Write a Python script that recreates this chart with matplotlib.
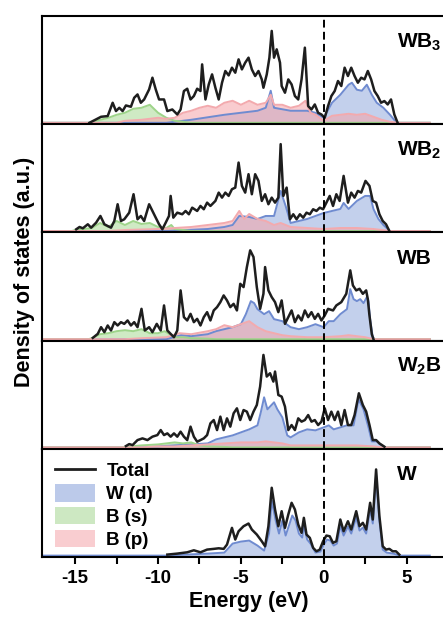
import matplotlib
matplotlib.use('Agg')
import matplotlib.pyplot as plt
from matplotlib.ticker import MultipleLocator
from matplotlib.lines import Line2D
from matplotlib.patches import Patch

# ---- data (DOS in arbitrary units) ----
# WB3
wb3_e = [-14.14, -13.44, -13.04, -12.74, -12.54, -12.34, -12.14, -11.94, -11.64, -11.44, -11.24, -11.04, -10.84,
         -10.54, -10.34, -10.14, -9.94, -9.64, -9.44, -9.14, -8.84, -8.64, -8.44, -8.24, -8.04, -7.84, -7.64, -7.44,
         -7.34, -7.14, -6.94, -6.74, -6.54, -6.34, -6.14, -5.94, -5.74, -5.54, -5.34, -5.14, -4.94, -4.74, -4.54,
         -4.34, -4.14, -3.94, -3.74, -3.64, -3.44, -3.28, -3.14, -3.0, -2.84, -2.64, -2.54, -2.34, -2.14, -1.94,
         -1.74, -1.54, -1.34, -1.14, -0.94, -0.74, -0.54, -0.34, -0.14, 0.06, 0.26, 0.46, 0.66, 0.86, 1.06, 1.26,
         1.46, 1.66, 1.86, 2.06, 2.26, 2.46, 2.66, 2.86, 3.06, 3.26, 3.46, 3.66, 3.86, 4.06, 4.26, 4.46]
wb3_tot = [0, 6, 6.7, 20, 11.7, 15, 11.7, 17.3, 16, 25, 28.3, 20, 23.3, 33.3, 45, 33.3, 23.3, 23.3, 11.7, 13.3, 8.3,
           13.3, 31.7, 34, 23.3, 26.7, 34, 31.7, 58.3, 23.3, 38.3, 48.3, 35, 23.3, 40, 51.7, 47.3, 55, 50, 63.3,
           53.3, 60, 65, 53.3, 46.7, 51.7, 43.3, 35, 48.3, 65, 91.7, 65, 73.3, 60, 36.7, 30, 43.3, 38.3, 26.7, 23.3,
           43.3, 75, 16.7, 13.3, 18.3, 10, 8.3, 5, 16.7, 26.7, 31.7, 41.7, 36.7, 55, 46.7, 55, 46.7, 40, 45, 43.3,
           51.7, 43.3, 31.7, 26.7, 20, 21.7, 18.3, 23.3, 8.3, 0]
wb3_wd_e = [-17, -9.5, -8, -6, -4, -3.5, -3.2, -3, -2, -1, -0.5, 0, 0.5, 1, 1.5, 1.7, 2, 2.3, 2.6, 2.9, 3.2, 3.6,
            4, 4.4, 6.4]
wb3_wd = [0, 0, 3, 8, 12, 15, 32, 15, 12, 12, 10, 5, 20, 28, 38, 40, 33, 32, 38, 28, 20, 15, 8, 0, 0]
wb3_bs_e = [-17, -14.2, -13.5, -13, -12.5, -12, -11.5, -11, -10.5, -10, -9.5, -9, -8.5, -8, 6.4]
wb3_bs = [0, 0, 3, 5, 8, 10, 14, 15, 18, 10, 5, 2, 1, 0, 0]
wb3_bp_e = [-17, -12.5, -12, -11, -10, -9.5, -9, -8.5, -8, -7.5, -7, -6.5, -6, -5.5, -5, -4.5, -4, -3.5, -3.2,
            -3, -2.5, -2, -1.5, -1.1, -0.8, -0.5, 0, 0.5, 1, 1.5, 2, 2.5, 3, 3.5, 4, 4.5, 6.4]
wb3_bp = [0, 0, 2, 3, 5, 4, 5, 10, 12, 15, 17, 15, 20, 22, 18, 22, 18, 20, 28, 18, 18, 15, 17, 22, 10, 8, 2, 7, 8,
          9, 8, 9, 6, 3, 1, 0, 0]

# WB2
wb2_e = [-14.94, -14.74, -14.54, -14.24, -14.04, -13.74, -13.48, -13.24, -13.04, -12.84, -12.64, -12.44, -12.24,
         -12.04, -11.74, -11.48, -11.24, -11.04, -10.84, -10.54, -10.34, -10.14, -9.94, -9.74, -9.54, -9.34, -9.24,
         -9.08, -8.84, -8.54, -8.34, -8.14, -7.94, -7.64, -7.44, -7.24, -7.04, -6.84, -6.54, -6.34, -6.14, -5.94,
         -5.74, -5.54, -5.34, -5.14, -4.94, -4.74, -4.54, -4.34, -4.14, -3.94, -3.74, -3.54, -3.34, -3.14, -2.94,
         -2.74, -2.6, -2.44, -2.24, -2.04, -1.84, -1.64, -1.44, -1.24, -1.04, -0.84, -0.64, -0.44, -0.24, -0.04,
         0.16, 0.36, 0.56, 0.76, 0.96, 1.2, 1.46, 1.66, 1.86, 2.06, 2.26, 2.52, 2.76, 2.96, 3.16, 3.36, 3.56, 3.76,
         3.96]
wb2_tot = [1.7, 4, 2.7, 6.7, 3.3, 8.3, 15, 6.7, 5, 3.3, 10, 26.7, 10, 11.7, 18.3, 36.7, 11.7, 15, 10, 26.7, 20,
           13.3, 6.7, 1.7, 8.3, 15, 35, 13.3, 18.3, 16.7, 20, 16.7, 23.3, 20, 25, 21.7, 28.3, 25, 30, 38.3, 33.3,
           38.3, 35, 41.7, 43.3, 68.3, 45, 38.3, 56.7, 36.7, 56.7, 50, 30, 36.7, 26.7, 33.3, 28.3, 33.3, 86.7, 35,
           43.3, 11.7, 16.7, 11.7, 16.7, 13.3, 18.3, 16.7, 21.7, 20, 23.3, 21.7, 28.3, 35, 25, 36.7, 30, 55, 28.3,
           38.3, 33.3, 40, 38.3, 50, 45, 30, 28.3, 16.7, 10, 6.7, 0]
wb2_wd_e = [-17, -9.5, -7, -6, -5.5, -5.1, -4.5, -4, -3.5, -3, -2.6, -2.3, -2, -1.5, -1, -0.5, 0, 0.5, 1, 1.2,
            1.5, 2, 2.5, 2.8, 3, 3.3, 3.6, 4, 6.4]
wb2_wd = [0, 0, 2, 4, 6, 15, 14, 12, 15, 15, 40, 25, 8, 10, 12, 15, 18, 20, 22, 28, 22, 30, 35, 35, 22, 12, 6, 0, 0]
wb2_bs_e = [-17, -15.2, -15, -14.5, -14, -13.5, -13, -12.5, -12, -11.5, -11, -10.5, -10, -9.5, -9.2, -9, -8.5, -8,
            6.4]
wb2_bs = [0, 0, 1, 2, 3, 8, 4, 10, 6, 10, 7, 8, 4, 3, 6, 2, 1, 0, 0]
wb2_bp_e = [-17, -13, -12, -10, -9, -8, -7, -6, -5.5, -5.1, -4.8, -4.5, -4, -3.5, -3, -2.6, -2, -1, 0, 1, 2, 3,
            3.5, 4, 6.4]
wb2_bp = [0, 0, 1, 2, 3, 4, 6, 8, 10, 20, 12, 17, 12, 10, 6, 8, 4, 3, 2, 3, 3, 2, 1, 0, 0]

# WB
wb_e = [-13.94, -13.64, -13.44, -13.24, -13.04, -12.84, -12.64, -12.44, -12.24, -12.04, -11.84, -11.64, -11.44,
        -11.24, -11.0, -10.8, -10.54, -10.34, -10.08, -9.84, -9.64, -9.44, -9.24, -9.04, -8.84, -8.64, -8.44, -8.24,
        -8.04, -7.84, -7.64, -7.44, -7.24, -7.04, -6.84, -6.64, -6.44, -6.24, -6.04, -5.84, -5.64, -5.44, -5.24,
        -5.04, -4.84, -4.64, -4.44, -4.24, -4.04, -3.84, -3.64, -3.54, -3.34, -3.14, -2.94, -2.74, -2.54, -2.34,
        -2.14, -1.94, -1.74, -1.54, -1.34, -1.14, -0.94, -0.74, -0.54, -0.34, -0.14, 0.06, 0.26, 0.56, 0.76, 1.06,
        1.36, 1.6, 1.76, 1.96, 2.16, 2.36, 2.56, 2.66, 2.75, 2.9, 3.0]
wb_tot = [1.3, 5.3, 12, 7, 13.7, 8.7, 17, 13.7, 17, 15.3, 18.7, 13.7, 17, 12, 30.3, 8.7, 12, 7, 15.3, 8.7, 33.7,
          8.7, 5.3, 2, 8.7, 48.7, 22, 18.7, 25.3, 17, 20.3, 13.7, 22, 27, 18.7, 28.7, 32, 37, 43.7, 38.7, 32, 35.3,
          28.7, 55.3, 52, 72, 88.7, 82, 52, 30.3, 45.3, 72, 48.7, 42, 37, 27, 38.7, 15.3, 22, 28.7, 17, 23.7, 18.7,
          28.7, 22, 27, 20.3, 25.3, 18.7, 23.7, 30.3, 28.7, 33.7, 37, 45.3, 68.7, 53.7, 48.7, 50.3, 45.3, 48.7, 40,
          25, 5, 0]
wb_wd_e = [-17, -9.5, -8.6, -8, -7, -6.5, -6, -5.5, -5, -4.7, -4.4, -4.2, -4, -3.6, -3.3, -3, -2.5, -2, -1.5, -1,
           -0.5, 0, 0.3, 0.6, 1, 1.4, 1.6, 1.8, 2.0, 2.2, 2.4, 2.6, 2.7, 2.8, 2.95, 3.05, 6.4]
wb_wd = [0, 0, 4, 3, 5, 8, 10, 12, 15, 25, 38, 36, 30, 25, 28, 20, 18, 12, 10, 12, 15, 12, 18, 18, 25, 30, 50, 40,
         38, 40, 36, 42, 38, 20, 3, 0, 0]
wb_bs_e = [-17, -14.2, -14, -13.5, -13, -12.5, -12, -11.5, -11, -10.5, -10, -9.6, -9, -8.5, -8, -7, -6.5, 6.4]
wb_bs = [0, 0, 1, 5, 6, 8, 9, 8, 10, 6, 6, 8, 2, 2, 1, 0.5, 0, 0]
wb_bp_e = [-17, -12, -11, -9.5, -8.7, -8, -7, -6.5, -6, -5.5, -5, -4.5, -4, -3.5, -3, -2.5, -2, -1, 0, 1, 1.5, 2,
           2.5, 3, 6.4]
wb_bp = [0, 0, 1, 2, 6, 5, 8, 10, 14, 12, 15, 18, 12, 8, 6, 4, 3, 2, 2, 3, 4, 3, 2, 0, 0]

# W2B
w2b_e = [-11.94, -11.74, -11.54, -11.24, -10.94, -10.64, -10.34, -10.04, -9.84, -9.64, -9.44, -9.24, -9.04, -8.84,
         -8.64, -8.44, -8.24, -8.04, -7.84, -7.64, -7.44, -7.24, -7.04, -6.84, -6.64, -6.44, -6.24, -6.04, -5.84,
         -5.64, -5.44, -5.24, -5.04, -4.84, -4.64, -4.44, -4.24, -4.04, -3.84, -3.64, -3.44, -3.24, -3.04, -2.94,
         -2.74, -2.54, -2.34, -2.14, -1.94, -1.74, -1.54, -1.34, -1.14, -0.94, -0.74, -0.54, -0.34, -0.14, 0.06,
         0.26, 0.46, 0.66, 0.86, 1.06, 1.26, 1.46, 1.66, 1.86, 2.12, 2.36, 2.56, 2.76, 2.96, 3.16, 3.36, 3.66]
w2b_tot = [1.3, 3.3, 2.3, 7.3, 9, 7.3, 10.7, 12.3, 17.3, 12.3, 14, 10.7, 14, 10.7, 15.7, 10.7, 7.3, 20.7, 10.7, 5.7,
           7.3, 9, 12.3, 24, 27.3, 17.3, 30.7, 17.3, 29, 20.7, 34, 39, 27.3, 37.3, 35.7, 27.3, 35.7, 42.3, 60.7, 92.3,
           70.7, 74, 65.7, 75.7, 52.3, 50.7, 40.7, 17.3, 22.3, 17.3, 29, 25.7, 27.3, 32.3, 25.7, 27.3, 22.3, 25.7, 39,
           27.3, 35.7, 27.3, 35.7, 22.3, 37.3, 22.3, 22.3, 32.3, 54, 42.3, 35.7, 22.3, 7.3, 7.3, 4, 0.7]
w2b_wd_e = [-17, -11, -10, -9, -8, -7, -6.5, -6, -5.5, -5, -4.5, -4, -3.8, -3.6, -3.4, -3.0, -2.8, -2.5, -2.2, -2,
            -1.5, -1, -0.5, 0, 0.3, 0.6, 1, 1.4, 1.8, 2.1, 2.4, 2.7, 2.9, 3.2, 3.4, 3.7, 6.4]
w2b_wd = [0, 0, 1, 2, 3, 4, 8, 10, 12, 15, 18, 22, 35, 50, 38, 45, 38, 30, 12, 10, 15, 18, 17, 20, 22, 18, 20, 22,
          22, 48, 38, 20, 6, 6, 3, 0, 0]
w2b_bs_e = [-17, -12.2, -12, -11, -10, -9.5, -9, -8.5, -8, -7.5, -7, -6, -5.5, 6.4]
w2b_bs = [0, 0, 0.5, 2, 3, 4, 5, 4, 5, 2, 1, 0.5, 0, 0]
w2b_bp_e = [-17, -11, -10, -9, -8, -7, -6, -5, -4, -3.5, -3, -2.5, -2, -1, 0, 1, 2, 3, 3.5, 6.4]
w2b_bp = [0, 0, 1, 1, 2, 3, 4, 5, 5, 6, 5, 4, 2, 2, 2, 2, 2, 1, 0, 0]

# W
w_e = [-9.44, -8.84, -8.24, -7.84, -7.44, -7.04, -6.64, -6.34, -6.04, -5.84, -5.54, -5.34, -5.14, -4.84, -4.54,
       -4.34, -4.04, -3.74, -3.54, -3.34, -3.14, -2.94, -2.74, -2.54, -2.34, -2.14, -1.94, -1.74, -1.54, -1.34, -1.2,
       -1.04, -0.84, -0.64, -0.44, -0.24, -0.04, 0.16, 0.36, 0.56, 0.76, 1.0, 1.2, 1.46, 1.66, 1.96, 2.16, 2.36,
       2.56, 2.8, 2.96, 3.16, 3.36, 3.56, 3.76, 3.96, 4.16, 4.36, 4.56]
w_tot = [1, 2, 3.3, 5.3, 3.3, 6, 6.7, 7.3, 6.7, 11, 27.7, 16, 24.3, 29.3, 32, 26, 21, 14.3, 9.3, 29.3, 67.7, 46,
         29.3, 44.3, 27.7, 41, 52.7, 46, 31, 22.7, 37.7, 21, 17.7, 7.7, 4.3, 6, 14.3, 20, 19.3, 12.7, 14.3, 36, 24.3,
         34.3, 26, 44.3, 29.3, 32.7, 26, 52.7, 36, 86, 39.3, 9.3, 6, 6.7, 4.3, 4.3, 1]
w_wd_e = [-17, -9.5, -9, -7, -6, -5.5, -5, -4.5, -4, -3.6, -3.3, -3.14, -2.9, -2.7, -2.5, -2.3, -2.1, -1.9, -1.7,
          -1.5, -1.3, -1.2, -1, -0.8, -0.5, -0.2, 0, 0.2, 0.4, 0.6, 0.8, 1.0, 1.2, 1.46, 1.66, 1.96, 2.16, 2.36, 2.56,
          2.8, 2.96, 3.16, 3.36, 3.56, 3.8, 4.2, 4.6, 6.4]
w_wd = [0, 0, 0.5, 2, 3, 12, 14, 15, 10, 5, 22, 55, 35, 22, 35, 20, 30, 40, 35, 22, 18, 30, 16, 12, 3, 4, 11, 16,
        15, 10, 12, 30, 20, 29, 22, 38, 25, 28, 22, 46, 32, 80, 35, 6, 3, 2, 0, 0]

panel_names = ['WB$_3$', 'WB$_2$', 'WB', 'W$_2$B', 'W']
x_ticks = [-15, -10, -5, 0, 5]

# colours
tot_color = '#1e1e1e'
wd_fill, wd_line = '#93abde', '#6f8bd0'
bs_fill, bs_line = '#a8d995', '#9ed48a'
bp_fill, bp_line = '#f5a3a8', '#f3aaae'

plt.rcParams['font.family'] = ['Liberation Sans', 'DejaVu Sans']
plt.rcParams['font.weight'] = 'bold'
plt.rcParams['axes.unicode_minus'] = False
plt.rcParams['mathtext.fontset'] = 'custom'
plt.rcParams['mathtext.rm'] = 'Liberation Sans:bold'
plt.rcParams['mathtext.bf'] = 'Liberation Sans:bold'
plt.rcParams['mathtext.default'] = 'bf'


def draw_partial(ax, e, v, fill, line):
    # filled projected DOS with a slightly darker outline
    ax.fill_between(e, 0, v, color=fill, alpha=0.55, lw=0, zorder=2)
    ax.plot(e, v, color=line, lw=1.4, zorder=2.5)


def draw_panel(ax, name, e, tot, wd_e, wd, bs_e=None, bs=None, bp_e=None, bp=None):
    draw_partial(ax, wd_e, wd, wd_fill, wd_line)
    if bs is not None:
        draw_partial(ax, bs_e, bs, bs_fill, bs_line)
    if bp is not None:
        draw_partial(ax, bp_e, bp, bp_fill, bp_line)
    ax.plot(e, tot, color=tot_color, lw=1.8, zorder=4)

    # Fermi level
    ax.axvline(0, color='black', lw=1.4, ls=(0, (4, 2.2)), zorder=5)

    # compound name, kept just inside the right edge of the figure
    ax.text(4.45, 0.76, name, transform=ax.get_xaxis_transform(), fontsize=15,
            fontweight='bold', ha='left', va='center')

    ax.set_ylim(-1.5, 106.5)
    ax.set_yticks([])
    for s in ax.spines.values():
        s.set_linewidth(1.5)


def main():
    fig, axes = plt.subplots(5, 1, sharex=True, figsize=(4.43, 6.19), dpi=100,
                             gridspec_kw=dict(hspace=0))
    fig.subplots_adjust(left=0.095, right=1.03, top=0.974, bottom=0.1)

    draw_panel(axes[0], panel_names[0], wb3_e, wb3_tot, wb3_wd_e, wb3_wd, wb3_bs_e, wb3_bs, wb3_bp_e, wb3_bp)
    draw_panel(axes[1], panel_names[1], wb2_e, wb2_tot, wb2_wd_e, wb2_wd, wb2_bs_e, wb2_bs, wb2_bp_e, wb2_bp)
    draw_panel(axes[2], panel_names[2], wb_e, wb_tot, wb_wd_e, wb_wd, wb_bs_e, wb_bs, wb_bp_e, wb_bp)
    draw_panel(axes[3], panel_names[3], w2b_e, w2b_tot, w2b_wd_e, w2b_wd, w2b_bs_e, w2b_bs, w2b_bp_e, w2b_bp)
    draw_panel(axes[4], panel_names[4], w_e, w_tot, w_wd_e, w_wd)

    for ax in axes:
        ax.set_xlim(-17, 8)
        ax.set_xticks(x_ticks)
        ax.xaxis.set_minor_locator(MultipleLocator(2.5))
        ax.tick_params(axis='x', which='both', direction='out', length=5, width=1.5,
                       top=False, labelsize=13.5, pad=4)

    axes[-1].set_xlabel('Energy (eV)', fontsize=15.5, fontweight='bold', labelpad=3)
    fig.text(0.055, 0.56, 'Density of states (a.u.)', rotation=90, fontsize=15.5,
             fontweight='bold', ha='center', va='center')

    # legend in the bottom panel
    handles = [Line2D([], [], color=tot_color, lw=2),
               Patch(facecolor='#bccaea', edgecolor='none'),
               Patch(facecolor='#cde8c2', edgecolor='none'),
               Patch(facecolor='#f9cdd0', edgecolor='none')]
    axes[-1].legend(handles, ['Total', 'W (d)', 'B (s)', 'B (p)'], loc='upper left',
                    bbox_to_anchor=(0.031, 0.885), frameon=False, borderpad=0, borderaxespad=0,
                    handlelength=2.15, handleheight=1.05, labelspacing=0.2,
                    handletextpad=0.6, prop={'weight': 'bold', 'size': 13.5})

    fig.savefig('out.png', dpi=100)


if __name__ == '__main__':
    main()
